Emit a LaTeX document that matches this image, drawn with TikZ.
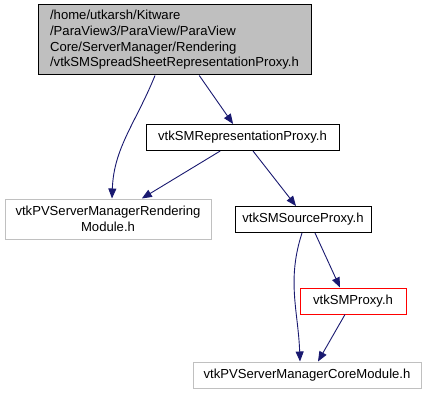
\documentclass[tikz,border=0pt]{standalone}
\usepackage{fontspec}
\setmainfont{Liberation Sans}
\usetikzlibrary{arrows.meta}

\definecolor{edgeblue}{HTML}{191970}
\definecolor{headgray}{HTML}{BFBFBF}
\definecolor{extgray}{HTML}{C0C0C0}

\begin{document}
\begin{tikzpicture}[x=1pt, y=1pt,
    file/.style={rectangle, draw=black, fill=white, line width=1pt, inner sep=0pt,
      font=\fontsize{13.1}{15.6}\selectfont, minimum height=26pt},
    ext/.style={file, draw=extgray},
    dep/.style={->, draw=edgeblue, line width=0.9pt},
    >={Triangle[length=10pt, width=8pt]}]
  \useasboundingbox (0,0) rectangle (427,-395);
  \node[file, fill=headgray, minimum width=273pt, minimum height=70pt, align=left] (sheet) at (174.5,-40)
    {/home/utkarsh/Kitware\\/ParaView3/ParaView/ParaView\\Core/ServerManager/Rendering\\/vtkSMSpreadSheetRepresentationProxy.h};
  \node[file, minimum width=193pt] (repr) at (242.5,-137.5) {vtkSMRepresentationProxy.h};
  \node[ext, minimum width=206pt, minimum height=40pt, align=center] (rend) at (108,-219)
    {vtkPVServerManagerRendering\\Module.h};
  \node[file, minimum width=136pt] (src) at (303,-219.5) {vtkSMSourceProxy.h};
  \node[file, draw=red, minimum width=106pt] (proxy) at (353,-301) {vtkSMProxy.h};
  \node[ext, minimum width=228pt] (core) at (307,-375) {vtkPVServerManagerCoreModule.h};

  \draw[dep] ([xshift=-19.5pt]sheet.south) to[out=-112, in=88] ([xshift=4pt]rend.north);
  \draw[dep] (sheet) -- (repr);
  \draw[dep] (repr) -- (rend);
  \draw[dep] ([xshift=10.5pt]repr.south) -- ([xshift=-7pt]src.north);
  \draw[dep] ([xshift=-1pt]src.south) to[out=-108, in=92] ([xshift=-7pt]core.north);
  \draw[dep] ([xshift=12pt]src.south) -- ([xshift=-13pt]proxy.north);
  \draw[dep] ([xshift=-8pt]proxy.south) -- ([xshift=11pt]core.north);
\end{tikzpicture}
\end{document}
